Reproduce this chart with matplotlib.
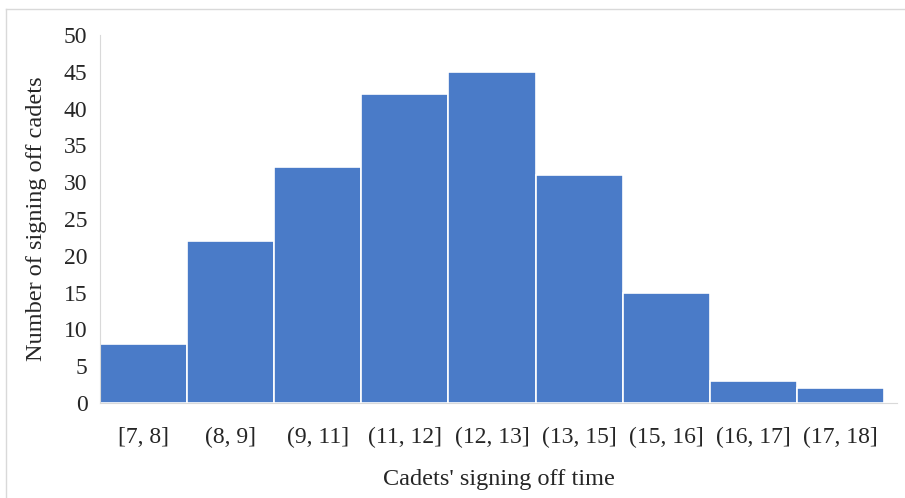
import matplotlib.pyplot as plt
from matplotlib.lines import Line2D

# signing off time intervals and counts
labels = ["[7, 8]", "(8, 9]", "(9, 11]", "(11, 12]", "(12, 13]",
          "(13, 15]", "(15, 16]", "(16, 17]", "(17, 18]"]
counts = [8, 22, 32, 42, 45, 31, 15, 3, 2]

plt.rcParams['font.family'] = ['Liberation Serif', 'DejaVu Serif']

fig = plt.figure(figsize=(9.05, 4.98), dpi=100)
ax = fig.add_axes([100 / 905, 1 - 403 / 498, 797 / 905, 368 / 498])

x = range(len(counts))
ax.bar(x, counts, width=1.0, color="#4a7bc8", edgecolor="white", linewidth=1.2)

ax.set_xlim(-0.5, 8.65)
ax.set_ylim(0, 50)
ax.set_yticks(range(0, 51, 5))
ax.set_xticks(list(x))
ax.set_xticklabels(labels)

for s in ["top", "right"]:
    ax.spines[s].set_visible(False)
ax.spines["left"].set_color("#d9d9d9")
ax.spines["bottom"].set_color("#d9d9d9")
ax.tick_params(axis="both", length=0, labelsize=17, colors="#262626")
ax.tick_params(axis="x", pad=17)
ax.tick_params(axis="y", pad=9)

ax.set_xlabel("Cadets' signing off time", fontsize=17.5, labelpad=15, color="#262626")
ax.set_ylabel("Number of signing off cadets", fontsize=17.5, labelpad=12, color="#262626")

# light frame around chart (left and top edges visible)
fig.add_artist(Line2D([6 / 905, 6 / 905], [0, 1 - 9 / 498], transform=fig.transFigure, color="#d9d9d9", lw=1))
fig.add_artist(Line2D([6 / 905, 1], [1 - 9 / 498, 1 - 9 / 498], transform=fig.transFigure, color="#d9d9d9", lw=1))

fig.savefig("out.png", dpi=100)
